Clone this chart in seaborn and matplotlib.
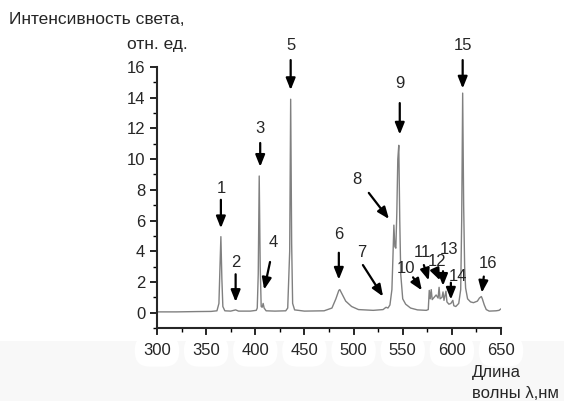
import pandas as pd
import seaborn as sns
import matplotlib.pyplot as plt
from matplotlib.patches import Rectangle
from matplotlib.ticker import MultipleLocator

# spectrum (wavelength, nm / intensity, rel. units)
wavelength = [300, 320, 340, 355, 361, 363, 364, 365, 366, 367, 369, 375, 380, 383,
              395, 401, 402, 403, 404, 405, 406, 407, 408, 409, 411, 420, 431, 433,
              435, 436, 437, 438, 440, 450, 470, 478, 482, 485, 486, 488, 492, 498,
              505, 520, 530, 533, 535, 537, 539, 540, 541, 542, 543, 544, 545, 546,
              547, 548, 550, 553, 558, 565, 574, 576, 577, 578, 579, 580, 582, 584,
              586, 587, 588, 590, 591, 592, 594, 595, 597, 599, 601, 602, 604, 607,
              609, 610, 611, 612, 613, 614, 616, 619, 622, 626, 628, 630, 631, 633,
              635, 638, 645, 648, 650]
intensity = [0.05, 0.05, 0.07, 0.08, 0.12, 0.6, 2.8, 4.95, 2.2, 0.4, 0.12, 0.1, 0.18, 0.1,
             0.1, 0.15, 0.3, 2.5, 8.9, 3.0, 0.4, 0.35, 0.6, 0.3, 0.12, 0.1, 0.12, 0.3,
             4.0, 13.9, 4.5, 0.6, 0.18, 0.1, 0.12, 0.3, 0.9, 1.45, 1.5, 1.25, 0.75, 0.4,
             0.2, 0.15, 0.2, 0.35, 0.3, 0.5, 1.5, 3.5, 5.7, 4.3, 4.2, 6.5, 10.0, 10.9,
             6.0, 2.5, 0.9, 0.55, 0.3, 0.18, 0.15, 0.2, 1.45, 0.9, 1.5, 0.85, 1.0, 1.15,
             0.95, 1.65, 0.9, 1.0, 1.35, 0.8, 1.4, 0.7, 0.55, 0.6, 0.8, 0.45, 0.4, 0.6,
             1.5, 6.0, 14.3, 7.0, 3.0, 1.6, 0.9, 0.7, 0.65, 0.75, 0.95, 1.05, 0.9, 0.5,
             0.2, 0.1, 0.12, 0.15, 0.25]

# numbered lines: label, text position, arrow tail, arrow tip
line_labels = ["1", "2", "3", "4", "5", "6", "7", "8", "9", "10", "11", "12", "13", "14", "15", "16"]
text_xy = [(365, 8.1), (380, 3.25), (405, 12.0), (418, 4.55), (436, 17.4), (485, 5.1),
           (508, 3.9), (503, 8.65), (547, 14.95), (553, 2.9), (570.5, 3.95), (585, 3.3),
           (597, 4.1), (606, 2.35), (611, 17.4), (637, 3.2)]
arrow_from = [(365, 7.35), (380, 2.5), (405, 11.05), (415, 3.3), (436, 16.45), (485, 3.9),
              (509.5, 3.1), (515.5, 7.8), (547, 13.65), (560.5, 2.3), (571.5, 3.1), (583, 2.8),
              (591, 2.7), (599, 1.95), (611, 16.45), (632.5, 2.35)]
arrow_to = [(365, 5.5), (380, 0.7), (405, 9.5), (409, 1.5), (436, 14.5), (485, 2.15),
            (530, 1.05), (536, 6.1), (547, 11.6), (569.5, 1.45), (576.5, 2.1), (588, 2.1),
            (591, 1.75), (599, 0.85), (611, 14.6), (630.5, 1.3)]

df = pd.DataFrame({"wl": wavelength, "I": intensity})

sns.set_style("ticks")
plt.rcParams["font.family"] = ["Liberation Sans", "DejaVu Sans"]

fig = plt.figure(figsize=(5.64, 4.01), dpi=100)
fig.patches.append(Rectangle((0, 0), 1, 60 / 401, transform=fig.transFigure,
                             facecolor="#f8f8f8", edgecolor="none", zorder=-1))
ax = fig.add_axes([157 / 564, 73 / 401, 344 / 564, 261 / 401])
ax.patch.set_alpha(0)

sns.lineplot(data=df, x="wl", y="I", color="#808080", linewidth=1.0, ax=ax)

for lab, t, a0, a1 in zip(line_labels, text_xy, arrow_from, arrow_to):
    ax.text(t[0], t[1], lab, ha="center", va="center", fontsize=12)
    ax.annotate("", xy=a1, xytext=a0,
                arrowprops=dict(arrowstyle="-|>,head_length=0.5,head_width=0.2",
                                color="black", lw=1.6, mutation_scale=14,
                                shrinkA=0, shrinkB=0))

ax.set_xlim(300, 650)
ax.set_ylim(-1, 16)
ax.xaxis.set_major_locator(MultipleLocator(50))
ax.xaxis.set_minor_locator(MultipleLocator(25))
ax.yaxis.set_major_locator(MultipleLocator(2))
ax.yaxis.set_minor_locator(MultipleLocator(1))
ax.tick_params(which="major", length=5, width=1.2, labelsize=12, color="black")
ax.tick_params(which="minor", length=3, width=1.0, color="black")
ax.tick_params(axis="x", pad=6)
for lbl in ax.get_xticklabels():
    lbl.set_bbox(dict(boxstyle="round,pad=0.5,rounding_size=0.9",
                      facecolor="white", edgecolor="none"))
sns.despine(ax=ax)
ax.spines["left"].set_linewidth(1.5)
ax.spines["bottom"].set_linewidth(1.5)
ax.set_xlabel("")
ax.set_ylabel("")

fig.text(9 / 564, 1 - 20 / 401, "Интенсивность света,", ha="left", va="center", fontsize=12.5)
fig.text(188 / 564, 1 - 44 / 401, "отн. ед.", ha="right", va="center", fontsize=12.5)
fig.text(472 / 564, 1 - 372 / 401, "Длина", ha="left", va="center", fontsize=12)
fig.text(472 / 564, 1 - 393 / 401, "волны λ,нм", ha="left", va="center", fontsize=12)

plt.savefig("out.png", dpi=100)
